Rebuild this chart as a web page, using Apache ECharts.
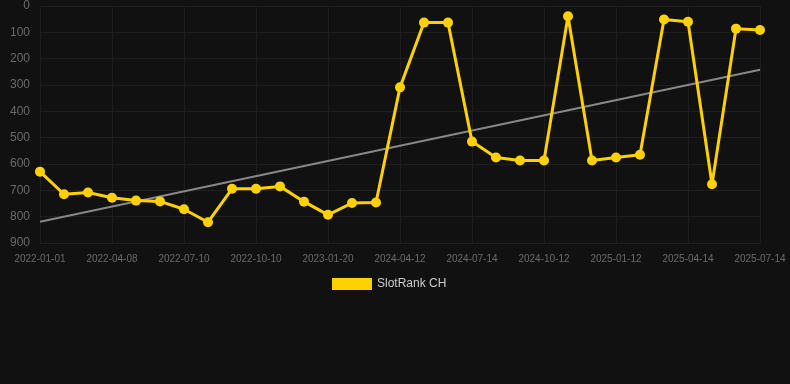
<!DOCTYPE html>
<html><head><meta charset="utf-8">
<script src="https://cdn.jsdelivr.net/npm/echarts@6/dist/echarts.min.js"></script>
<style>html,body{margin:0;padding:0;background:#111111;}#c{width:790px;height:384px;}</style>
</head><body><div id="c"></div>
<script>
const categories = ['2022-01-01','2022-02-01','2022-03-05','2022-04-08','2022-05-10','2022-06-09','2022-07-10','2022-08-10','2022-09-09','2022-10-10','2022-11-10','2022-12-15','2023-01-20','2023-02-20','2023-03-22','2024-04-12','2024-05-12','2024-06-13','2024-07-14','2024-08-14','2024-09-12','2024-10-12','2024-11-12','2024-12-12','2025-01-12','2025-02-12','2025-03-14','2025-04-14','2025-05-14','2025-06-13','2025-07-14'];
const rankValues = [629,715,708,728,739,742,772,821,694,694,685,743,793,748,746,309,63,63,515,575,587,587,39,587,575,565,51,60,677,86,91];
const trendStart = 819;
const trendEnd = 242;
const trendValues = categories.map((c,i)=> i===0 ? trendStart : (i===categories.length-1 ? trendEnd : null));
const seriesName = 'SlotRank CH';

const chart = echarts.init(document.getElementById('c'), null, {renderer:'canvas'});
chart.setOption({
  backgroundColor:'#111111',
  animation:false,
  grid:{left:40,right:30,top:6,bottom:141},
  legend:{
    data:[seriesName], top:273, left:327,
    itemWidth:40, itemHeight:12, icon:'rect', itemGap:10,
    textStyle:{color:'#cccccc', fontSize:12, fontFamily:'Liberation Sans, Arial'}
  },
  xAxis:{
    type:'category', data:categories, boundaryGap:false,
    axisLine:{show:false},
    axisTick:{show:false},
    axisLabel:{interval:2, color:'#6a6a6a', fontSize:10, fontFamily:'Liberation Sans, Arial', margin:11},
    splitLine:{show:true, interval:2, lineStyle:{color:'#1d1d1d', width:1}}
  },
  yAxis:{
    type:'value', inverse:true, min:0, max:900, interval:100,
    axisLine:{show:false}, axisTick:{show:false},
    axisLabel:{color:'#6a6a6a', fontSize:12, fontFamily:'Liberation Sans, Arial', margin:10},
    splitLine:{lineStyle:{color:'#1f1f1f', width:1}}
  },
  series:[
    {
      name:'trend', type:'line', data:trendValues, connectNulls:true,
      symbol:'none', silent:true,
      lineStyle:{color:'#888888', width:2},
      z:1
    },
    {
      name:seriesName, type:'line', data:rankValues,
      symbol:'circle', symbolSize:10,
      itemStyle:{color:'#FFD100'},
      lineStyle:{color:'#FFD100', width:3},
      z:2
    }
  ]
});
</script></body></html>
